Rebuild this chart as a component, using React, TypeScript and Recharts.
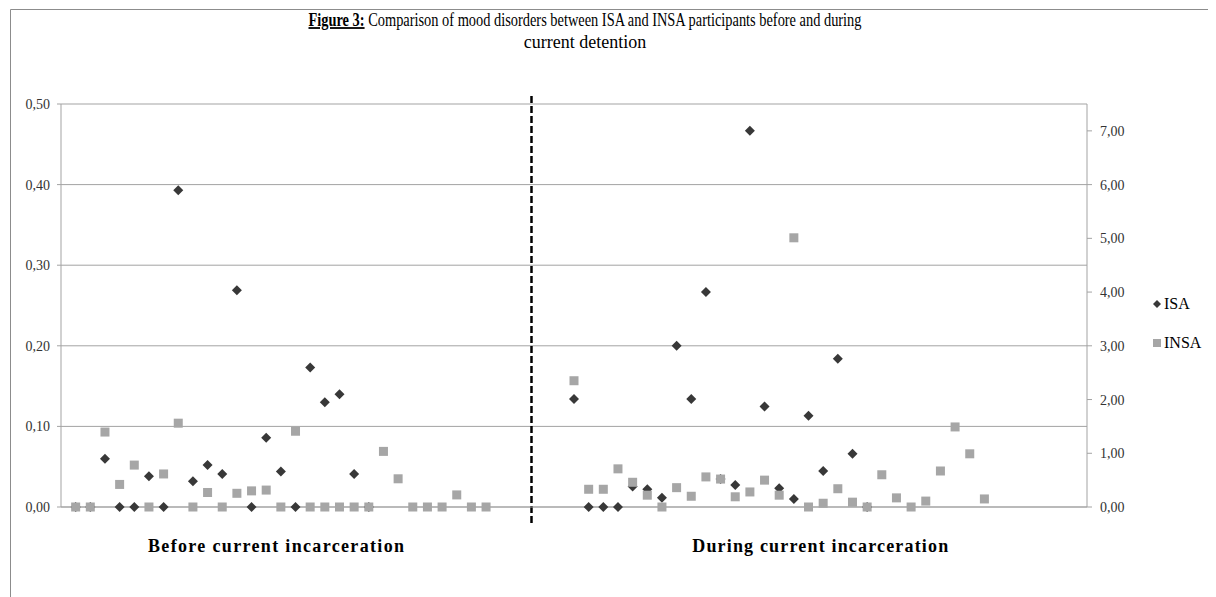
import React from 'react'
import { ScatterChart, Scatter, XAxis, YAxis, CartesianGrid, ReferenceLine } from 'recharts'

// values, one entry per participant slot
const isaBefore = [0, 0, 0.06, 0, 0, 0.038, 0, 0.393, 0.032, 0.052, 0.041, 0.269, 0, 0.086, 0.044, 0, 0.173, 0.13, 0.14, 0.041, 0]
const insaBefore = [0, 0, 0.093, 0.028, 0.052, 0, 0.041, 0.104, 0, 0.018, 0, 0.017, 0.02, 0.021, 0, 0.094, 0, 0, 0, 0, 0, 0.069, 0.035, 0, 0, 0, 0.015, 0, 0]
const isaDuring = [2.01, 0, 0, 0, 0.38, 0.33, 0.17, 3.0, 2.01, 4.0, 0.52, 0.41, 7.0, 1.87, 0.35, 0.15, 1.7, 0.67, 2.76, 0.99, 0]
const insaDuring = [2.35, 0.33, 0.33, 0.71, 0.46, 0.22, 0, 0.36, 0.2, 0.56, 0.52, 0.19, 0.28, 0.5, 0.22, 5.01, 0, 0.07, 0.34, 0.09, 0, 0.6, 0.17, 0, 0.11, 0.67, 1.49, 0.99, 0.15]

const leftTicks = [0, 0.1, 0.2, 0.3, 0.4, 0.5]
const rightTicks = [0, 1, 2, 3, 4, 5, 6, 7]
const sectionLabels = ['Before current incarceration', 'During current incarceration']
const seriesNames = ['ISA', 'INSA']

const FONT = '"Liberation Serif", "Times New Roman", serif'
const ISA_COLOR = '#383838'
const INSA_COLOR = '#a6a6a6'
const GRID = '#a3a3a3'

// x slots: before section starts at 1, during section starts at 35
const toPoints = (vals: number[], start: number) => vals.map((v, i) => ({ x: start + i, y: v }))

const fmt = (v: number) => v.toFixed(2).replace('.', ',')

const Diamond = (props: any) => {
  const { cx, cy } = props
  const r = 5
  return <path d={`M${cx},${cy - r}L${cx + r},${cy}L${cx},${cy + r}L${cx - r},${cy}Z`} fill={ISA_COLOR} />
}

const Square = (props: any) => {
  const { cx, cy } = props
  return <rect x={cx - 4.5} y={cy - 4.5} width={9} height={9} fill={INSA_COLOR} />
}

const SectionTick = (props: any) => {
  const { x, y, index } = props
  return (
    <text x={x} y={y + 37} textAnchor="middle" fontFamily={FONT} fontWeight="bold" fontSize={18} fill="#000" textLength={256}>
      {sectionLabels[index]}
    </text>
  )
}

const App = () => {
  return (
    <div style={{ position: 'relative', width: 1208, height: 589 }}>
      <ScatterChart width={1200} height={589} margin={{ top: 96, right: 71, bottom: 50, left: 0 }}>
        <CartesianGrid yAxisId="left" vertical={false} stroke={GRID} />
        <XAxis
          type="number"
          dataKey="x"
          domain={[0, 70]}
          ticks={[14.67, 51.8]}
          tick={<SectionTick />}
          tickLine={false}
          axisLine={{ stroke: GRID }}
          height={40}
          interval={0}
        />
        <YAxis
          yAxisId="left"
          type="number"
          dataKey="y"
          domain={[0, 0.5]}
          ticks={leftTicks}
          tickFormatter={fmt}
          width={53}
          tickSize={4}
          tickMargin={7}
          axisLine={{ stroke: GRID }}
          tickLine={{ stroke: GRID }}
          tick={{ fill: '#333', fontSize: 14, fontFamily: FONT }}
        />
        <YAxis
          yAxisId="right"
          orientation="right"
          type="number"
          dataKey="y"
          domain={[0, 7.5]}
          ticks={rightTicks}
          tickFormatter={fmt}
          width={50}
          tickSize={5}
          tickMargin={8}
          axisLine={{ stroke: GRID }}
          tickLine={{ stroke: GRID }}
          tick={{ fill: '#333', fontSize: 14, fontFamily: FONT, textAnchor: 'start' }}
        />
        <ReferenceLine
          yAxisId="left"
          segment={[{ x: 32.1, y: 0.51 }, { x: 32.1, y: -0.02 }]}
          ifOverflow="visible"
          stroke="#000"
          strokeWidth={2.5}
          strokeDasharray="7 3"
        />
        <Scatter name="ISA" yAxisId="left" data={toPoints(isaBefore, 1)} shape={<Diamond />} isAnimationActive={false} />
        <Scatter name="INSA" yAxisId="left" data={toPoints(insaBefore, 1)} shape={<Square />} isAnimationActive={false} />
        <Scatter name="ISA" yAxisId="right" data={toPoints(isaDuring, 35)} shape={<Diamond />} isAnimationActive={false} />
        <Scatter name="INSA" yAxisId="right" data={toPoints(insaDuring, 35)} shape={<Square />} isAnimationActive={false} />
      </ScatterChart>
      <svg width={1208} height={589} style={{ position: 'absolute', left: 0, top: 0, pointerEvents: 'none' }}>
        <line x1={2.5} y1={1.5} x2={1208} y2={1.5} stroke="#8c8c8c" />
        <line x1={2.5} y1={1.5} x2={2.5} y2={589} stroke="#8c8c8c" />
        {/* title line is drawn narrow, like the original */}
        <g transform="translate(577, 18) scale(0.8, 1)">
          <text x={0} y={0} textAnchor="middle" fontFamily={FONT} fontSize={18} fill="#000">
            <tspan fontWeight="bold" textDecoration="underline">Figure 3:</tspan>
            <tspan> Comparison of mood disorders between ISA and INSA participants before and during</tspan>
          </text>
        </g>
        <text x={577} y={40} textAnchor="middle" fontFamily={FONT} fontSize={18} fill="#000">
          current detention
        </text>
        <path d="M1149,292L1153,296L1149,300L1145,296Z" fill={ISA_COLOR} />
        <text x={1156} y={301} fontFamily={FONT} fontSize={16} fill="#000">{seriesNames[0]}</text>
        <rect x={1145} y={331} width={8} height={8} fill={INSA_COLOR} />
        <text x={1156} y={340} fontFamily={FONT} fontSize={16} fill="#000">{seriesNames[1]}</text>
      </svg>
    </div>
  )
}

export default App
